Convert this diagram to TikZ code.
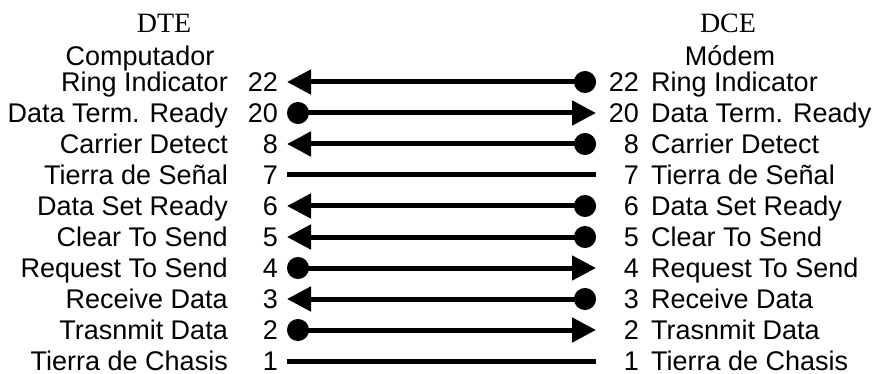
\documentclass[tikz,border=0pt]{standalone}
\usepackage{fontspec}
\setmainfont{Liberation Sans}
\newfontfamily\serifhead{Liberation Serif}
\usetikzlibrary{arrows.meta}
\begin{document}
\begin{tikzpicture}[x=1pt,y=-1pt,
  lbl/.style={inner sep=0pt, font=\fontsize{27}{27}\selectfont},
  head/.style={inner sep=0pt, anchor=base, font=\serifhead\fontsize{28}{28}\selectfont},
  wire/.style={line width=5pt},
  pinarrow/.tip={Triangle[length=24pt,width=24pt]},
  pindot/.tip={Circle[length=22pt]},
  kindL/.style={pinarrow-pindot},
  kindR/.style={pindot-pinarrow},
  kindN/.style={}
]
\useasboundingbox (0,0) rectangle (875,374);
\node[head] (dte) at (164,33) {DTE};
\node[head] (dce) at (728,33) {DCE};
\node[lbl, anchor=base] (comp) at (140,66) {Computador};
\node[lbl, anchor=base] (modem) at (730,66) {Módem};
\foreach \num/\i/\name/\kind in {22/0/Ring Indicator/L, 20/1/Data Term. Ready/R, 8/2/Carrier Detect/L, 7/3/Tierra de Señal/N, 6/4/Data Set Ready/L, 5/5/Clear To Send/L, 4/6/Request To Send/R, 3/7/Receive Data/L, 2/8/Trasnmit Data/R, 1/9/Tierra de Chasis/N}{
  \pgfmathsetmacro\yy{82+31.0*\i}
  \node[lbl, anchor=base east] (ll\num) at (228,\yy+9.5) {\name};
  \node[lbl, anchor=base east] (ln\num) at (278,\yy+9.5) {\num};
  \node[lbl, anchor=base east] (rn\num) at (639,\yy+9.5) {\num};
  \node[lbl, anchor=base west] (rl\num) at (651,\yy+9.5) {\name};
  \coordinate (a\num) at (287,\yy);
  \coordinate (b\num) at (596,\yy);
  \draw[wire, kind\kind] (a\num) -- (b\num);
}
\end{tikzpicture}
\end{document}
